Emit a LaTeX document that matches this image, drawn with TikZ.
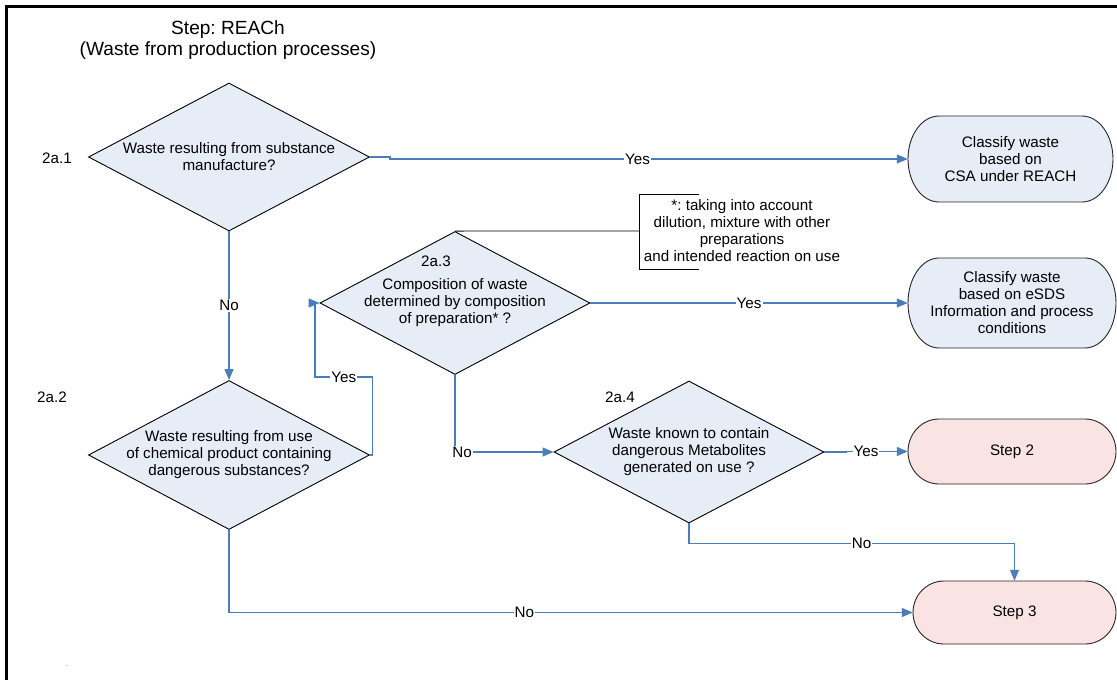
\documentclass[tikz,border=0pt]{standalone}
\usepackage{fontspec}
\setmainfont{Liberation Sans}
\usetikzlibrary{shapes.geometric,arrows.meta}
\definecolor{qfill}{HTML}{E6EDF7}
\definecolor{endfill}{HTML}{FAE3E3}
\definecolor{flowblue}{HTML}{4A7EBB}
\frenchspacing

% rounded terminal: #1 name, #2 cx, #3 cy, #4 width, #5 height, #6 fill, #7 text
\def\ftrad{31}
\newcommand\flowterm[7]{%
  \pgfmathsetmacro\ftL{#2-#4/2+\ftrad}%
  \pgfmathsetmacro\ftR{#2+#4/2-\ftrad}%
  \pgfmathsetmacro\ftT{#3-#5/2}%
  \pgfmathsetmacro\ftB{#3+#5/2}%
  \pgfmathsetmacro\ftH{#5/2}%
  \draw[termline, fill=#6] (\ftL,\ftT) -- (\ftR,\ftT)
     arc[start angle=90, end angle=-90, x radius=\ftrad pt, y radius=\ftH pt]
     -- (\ftL,\ftB)
     arc[start angle=270, end angle=90, x radius=\ftrad pt, y radius=\ftH pt]
     -- cycle;
  \node[termtext, minimum width=#4pt, minimum height=#5pt] (#1) at (#2,#3) {#7};
}

\begin{document}
\begin{tikzpicture}[x=1pt,y=-1pt,
  every node/.style={font=\fontsize{15.2}{17}\selectfont},
  question/.style={diamond, draw=black, line width=0.9pt, fill=qfill, inner sep=0pt},
  qtext/.style={align=center, inner sep=0pt},
  termline/.style={draw=black!85, line width=0.9pt},
  termtext/.style={align=center, inner sep=0pt},
  steplabel/.style={inner sep=0pt},
  conn/.style={draw=flowblue, line width=1.1pt, -{Triangle[length=11pt,width=9pt]}},
  lab/.style={fill=white, inner sep=1pt, text=black},
  noteline/.style={draw=black, line width=0.9pt}
]
\useasboundingbox (0,0) rectangle (1117,680);

% frame
\draw[line width=2.2pt] (6.5,680) -- (6.5,6.5) -- (1117,6.5);

% title
\node[align=center, inner sep=0pt, font=\fontsize{19.1}{21}\selectfont] (title) at (228,40)
  {Step: REACh\\(Waste from production processes)};

% decisions
\node[question, minimum width=281pt, minimum height=148pt] (d1) at (229,157) {};
\node[qtext] (d1t) at (d1.center) {Waste resulting from substance\\manufacture?};
\node[steplabel] (n1) at (57,158) {2a.1};

\node[question, minimum width=281pt, minimum height=149pt] (d2) at (229,455) {};
\node[qtext] (d2t) at (d2.center) {Waste resulting from use\\of chemical product containing\\dangerous substances?};
\node[steplabel] (n2) at (52,397) {2a.2};

\node[question, minimum width=270pt, minimum height=143pt] (d3) at (455,303) {};
\node[qtext] (d3t) at (d3.center) {Composition of waste\\determined by composition\\of preparation* ?};
\node[steplabel] (n3) at (436,261) {2a.3};

\node[question, minimum width=270pt, minimum height=142pt] (d4) at (689,452) {};
\node[qtext] (d4t) at (d4.center) {Waste known to contain\\dangerous Metabolites\\generated on use ?};
\node[steplabel] (n4) at (620,397) {2a.4};

% terminals
\flowterm{t1}{1010.5}{159}{205}{86}{qfill}{Classify waste\\based on\\CSA under REACH}
\flowterm{t2}{1012}{303}{208}{90}{qfill}{Classify waste\\based on eSDS\\Information and process\\conditions}
\flowterm{t3}{1012}{451.5}{208}{65}{endfill}{Step 2}
\flowterm{t4}{1014.5}{612.5}{203}{63}{endfill}{Step 3}

% annotation
\node[align=center, inner sep=0pt] (note) at (742,231)
  {*: taking into account\\dilution, mixture with other\\preparations\\and intended reaction on use};
\coordinate (notebrk) at (639,231);
\draw[noteline] (699,194) -- (639,194) -- (639,269) -- (699,269);
\draw[noteline] (d3.north) -- (notebrk);

% connectors
\draw[conn] (d1.east) -- ++(20,0) -- ++(0,2) -- (t1.west) node[lab, pos=0.478] {Yes};
\draw[conn] (d1.south) -- (d2.north) node[lab, pos=0.5] {No};
\coordinate (loopa) at (372.5,377);
\coordinate (loopb) at (315,377);
\draw[conn] (d2.east) -| (loopa) -- (loopb) node[lab, pos=0.5] {Yes} |- (d3.west);
\draw[conn] (d3.east) -- (t2.west) node[lab, pos=0.5] {Yes};
\draw[conn] (d3.south) |- (d4.west) node[lab, pos=0.536] {No};
\draw[conn] (d4.east) -- ++(22,0) -- ++(0,-0.5) -- (t3.west) node[lab, pos=0.32] {Yes};
\draw[conn] (d4.south) -- ++(0,20) -| (t4.north) node[lab, pos=0.265] {No};
\draw[conn] (d2.south) |- (t4.west) node[lab, pos=0.716] {No};

% stray mark near the lower left
\node[inner sep=0pt, text=black!60, font=\fontsize{8}{8}\selectfont] (dot) at (67,666) {.};
\end{tikzpicture}
\end{document}
